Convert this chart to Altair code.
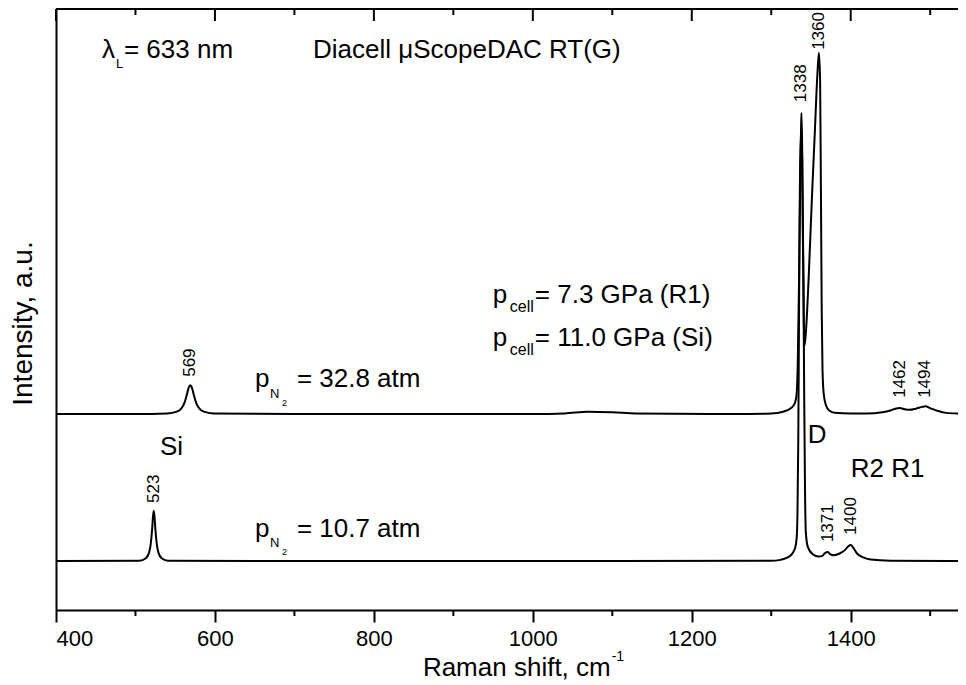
import altair as alt
import pandas as pd

# ---------------- data ----------------
# upper spectrum (p_N2 = 32.8 atm)
up_x = [400, 500, 540, 552, 558, 562, 565, 567, 569, 571, 573, 576, 580, 586, 598, 700, 900,
        1000, 1040, 1070, 1100, 1130, 1250, 1300, 1315, 1325, 1330, 1332, 1333.5, 1335, 1336.5,
        1337.5, 1338, 1338.8, 1339.8, 1341, 1342, 1344, 1347, 1351, 1355, 1358, 1360, 1361.5,
        1362.5, 1363.5, 1364.5, 1366, 1369, 1373, 1380, 1400, 1420, 1440, 1450, 1456, 1462,
        1468, 1474, 1482, 1490, 1494, 1500, 1510, 1520, 1535]
up_y = [32.6, 32.6, 32.7, 33.0, 33.6, 34.6, 36.0, 37.0, 37.4, 37.0, 36.0, 34.6, 33.6, 33.0, 32.7,
        32.6, 32.6, 32.6, 32.7, 33.0, 32.9, 32.7, 32.6, 32.7, 33.0, 33.6, 34.5, 36.0, 42.0, 55.0,
        72.0, 80.0, 82.7, 78.0, 62.0, 48.0, 44.0, 47.0, 55.0, 68.0, 80.0, 89.0, 92.7, 88.0, 70.0,
        50.0, 40.0, 36.0, 34.0, 33.2, 32.8, 32.7, 32.7, 32.9, 33.2, 33.5, 33.6, 33.4, 33.3, 33.5,
        33.8, 33.9, 33.6, 33.1, 32.8, 32.7]

# lower spectrum (p_N2 = 10.7 atm)
lo_x = [400, 505, 513, 517, 519, 521, 522, 523, 524, 525, 527, 529, 533, 541, 700, 900, 1100,
        1300, 1310, 1320, 1326, 1330, 1332, 1333, 1334, 1335, 1336, 1337.5, 1339, 1340.5, 1341.5,
        1342.5, 1343.5, 1346, 1352, 1360, 1364, 1368, 1371, 1374, 1378, 1386, 1393, 1397, 1400,
        1403, 1408, 1415, 1425, 1450, 1535]
lo_y = [8.15, 8.2, 8.6, 9.5, 10.8, 13.5, 15.5, 16.5, 15.5, 13.5, 10.8, 9.5, 8.6, 8.2, 8.15, 8.15,
        8.15, 8.2, 8.3, 8.7, 9.3, 10.3, 12.0, 16.0, 28.0, 50.0, 70.0, 80.0, 75.0, 55.0, 35.0, 20.0,
        13.0, 10.5, 9.3, 8.9, 9.0, 9.5, 9.65, 9.3, 9.1, 9.4, 10.0, 10.6, 10.8, 10.4, 9.4, 8.8, 8.4,
        8.2, 8.15]

# peak labels
pk_x = [569, 1338, 1360, 1462, 1494, 523, 1371, 1400]
pk_label_y = [38.8, 84.5, 93.2, 35.3, 35.3, 17.8, 11.3, 12.5]

# free annotations (left aligned, alphabetic baseline)
note_text = ["λ", "L", "= 633 nm", "Diacell μScopeDAC RT(G)",
             "p", "N", "2", "= 32.8 atm",
             "p", "N", "2", "= 10.7 atm",
             "p", "cell", "= 7.3 GPa (R1)",
             "p", "cell", "= 11.0 GPa (Si)",
             "Si", "D", "R2 R1"]
note_x = [457.9, 475.5, 485.5, 723.3,
          650.3, 669.2, 684.3, 703.1,
          650.3, 669.2, 684.3, 703.1,
          949.7, 971.1, 1002.5,
          949.7, 971.1, 1002.5,
          530.8, 1345.9, 1400.0]
note_y = [91.8, 90.2, 91.8, 91.8,
          37.1, 35.3, 33.9, 37.1,
          12.1, 10.5, 9.2, 12.1,
          51.1, 49.6, 51.1,
          43.9, 42.4, 43.9,
          25.8, 27.8, 22.1]
note_size = [26, 13, 26, 26,
             26, 13, 9, 26,
             26, 13, 9, 26,
             26, 16, 26,
             26, 16, 26,
             26, 26, 26]

major_ticks = [400, 600, 800, 1000, 1200, 1400]
minor_ticks = [500, 700, 900, 1100, 1300, 1500]

# ---------------- chart ----------------
W, H = 902, 601
FONT = "Liberation Sans"
xscale = alt.Scale(domain=[400, 1535], nice=False, zero=False)
yscale = alt.Scale(domain=[0, 100], nice=False, zero=False)

xaxis = alt.Axis(values=major_ticks, format="d", tickSize=12, tickWidth=2, tickColor="black",
                 domainWidth=2, domainColor="black", labelFont=FONT, labelFontSize=22,
                 labelColor="black", labelPadding=6, grid=False, title=None)
yaxis = alt.Axis(ticks=False, labels=False, domainWidth=2, domainColor="black", grid=False,
                 title="Intensity, a.u.", titleFont=FONT, titleFontSize=28,
                 titleFontWeight="normal", titleColor="black", titlePadding=19, titleY=314)

X = alt.X("x:Q", scale=xscale, axis=xaxis)
Y = alt.Y("y:Q", scale=yscale, axis=yaxis)

spec = pd.concat([
    pd.DataFrame({"x": up_x, "y": up_y, "s": "upper", "i": range(len(up_x))}),
    pd.DataFrame({"x": lo_x, "y": lo_y, "s": "lower", "i": range(len(lo_x))}),
])

lines = alt.Chart(spec).mark_line(color="black", strokeWidth=2, clip=True,
                                  interpolate="monotone").encode(
    x=X, y=Y, detail="s:N", order="i:Q")

pk = pd.DataFrame({"x": pk_x, "y": pk_label_y, "t": [str(v) for v in pk_x]})
peak_labels = alt.Chart(pk).mark_text(angle=270, align="left", baseline="middle",
                                      font=FONT, fontSize=17, color="black").encode(
    x=X, y=Y, text="t:N")

notes = pd.DataFrame({"x": note_x, "y": note_y, "t": note_text, "sz": note_size})
note_marks = alt.Chart(notes).mark_text(align="left", baseline="alphabetic",
                                        font=FONT, color="black").encode(
    x=X, y=Y, text="t:N", size=alt.Size("sz:Q", scale=None, legend=None))

minor_df = pd.DataFrame({"x": minor_ticks})
major_df = pd.DataFrame({"x": major_ticks})
bottom_minor = alt.Chart(minor_df).mark_rule(color="black", strokeWidth=2).encode(
    x=X, y=alt.value(H), y2=alt.value(H + 6))
top_major = alt.Chart(major_df).mark_rule(color="black", strokeWidth=2).encode(
    x=X, y=alt.value(0), y2=alt.value(12))
top_minor = alt.Chart(minor_df).mark_rule(color="black", strokeWidth=2).encode(
    x=X, y=alt.value(0), y2=alt.value(6))
top_border = alt.Chart(major_df.head(1)).mark_rule(color="black", strokeWidth=2).encode(
    x=alt.value(0), x2=alt.value(W), y=alt.value(0))

xt = pd.DataFrame({"x": [1098.0]})
xtitle = alt.Chart(xt).mark_text(align="right", baseline="alphabetic", font=FONT,
                                 fontSize=26, color="black", text="Raman shift, cm").encode(
    x=X, y=alt.value(667))
xtitle_sup = alt.Chart(xt).mark_text(align="left", baseline="alphabetic", font=FONT,
                                     fontSize=14, color="black", text="-1", dx=1).encode(
    x=X, y=alt.value(652))

chart = alt.layer(
    lines, peak_labels, note_marks, bottom_minor, top_major, top_minor, top_border,
    xtitle, xtitle_sup
).properties(
    width=W, height=H,
    autosize=alt.AutoSizeParams(type="none"),
    padding={"left": 48, "top": 1, "right": 0, "bottom": 73},
).configure_view(stroke=None)

chart.save("out.html", embed_options={"renderer": "svg", "actions": False})
